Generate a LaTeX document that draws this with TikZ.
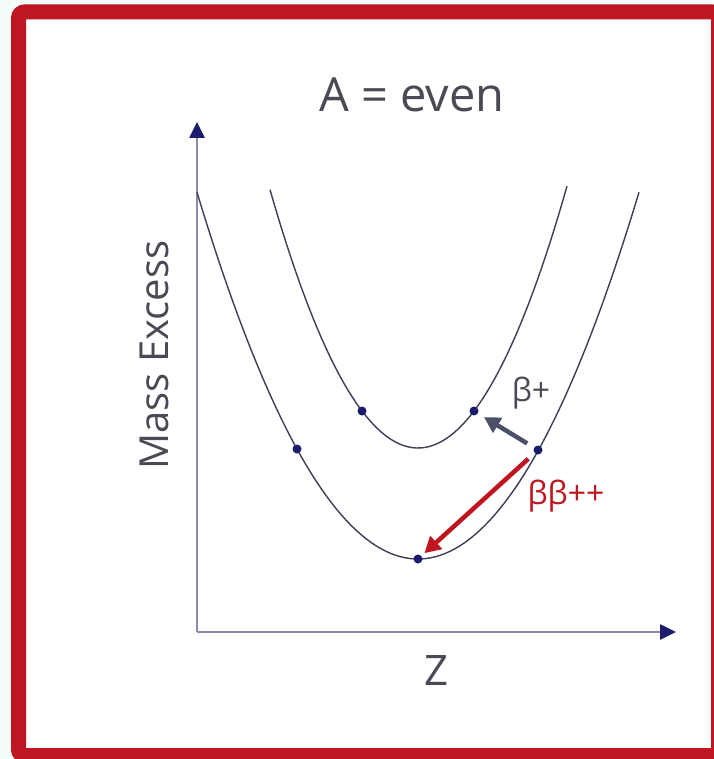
\documentclass[tikz,border=0pt]{standalone}
\usepackage{fontspec}
\setmainfont{Open Sans}
\usepackage{tikz}
\usetikzlibrary{arrows.meta}
\definecolor{FrameRed}{HTML}{BE1622}
\definecolor{PageTint}{HTML}{F2FDFB}
\definecolor{AxisGrey}{HTML}{8C8CA8}
\definecolor{AxisNavy}{HTML}{1C1C6E}
\definecolor{CurveGrey}{HTML}{3E3E58}
\definecolor{TextGrey}{HTML}{4A4A55}
\definecolor{DecayRed}{HTML}{C0141E}
\definecolor{DecaySlate}{HTML}{4B5068}
\newcommand{\textsz}[1]{\fontsize{#1}{#1}\selectfont}

\begin{document}
\begin{tikzpicture}[x=1pt, y=-1pt,
    level/.style={circle, fill=AxisNavy, inner sep=0pt, minimum size=9pt},
    parabolaline/.style={CurveGrey, line width=1.4pt},
    axisline/.style={AxisGrey, line width=2.6pt, -{Triangle[length=16pt,width=15pt,color=AxisNavy]}},
    decay/.style={line width=4.5pt, -{Triangle[length=16pt,width=17pt]}},
    axistext/.style={text=TextGrey, inner sep=0pt, anchor=base}]
    \useasboundingbox[fill=PageTint] (0,0) rectangle (713,759);
    \draw[FrameRed, line width=15pt, fill=white, rounded corners=6pt] (18.5,12) rectangle (718.5,755.5);
    % axes
    \coordinate (origin) at (197,632);
    \coordinate (ytip) at (197,122);
    \coordinate (xtip) at (676,632);
    \draw[axisline] (origin) -- (ytip);
    \draw[axisline] (origin) -- (xtip);
    % mass parabolas
    \draw[parabolaline] plot[domain=197:639, samples=90] (\x,{559-0.08666*(\x-418)*0.08666*(\x-418)});
    \draw[parabolaline] plot[domain=270:567, samples=70] (\x,{448-0.1086*(\x-418)*0.1086*(\x-418)});
    \node[level] (evenlow1) at (297,449) {};
    \node[level] (evenmin) at (418,559) {};
    \node[level] (evenlow3) at (538,450) {};
    \node[level] (oddhigh1) at (362,411) {};
    \node[level] (oddhigh2) at (474,411) {};
    % decays
    \draw[decay, DecaySlate, shorten <=8pt, shorten >=7pt] (evenlow3) -- (oddhigh2);
    \draw[decay, DecayRed, shorten <=8.5pt, shorten >=4pt] (evenlow3) -- (evenmin);
    % labels
    \node[axistext, font=\textsz{47}] (title) at (412,112) {A = even};
    \node[axistext, font=\textsz{40}, rotate=90] (ylabel) at (168,355) {Mass Excess};
    \node[axistext, font=\textsz{42}] (xlabel) at (436,685) {Z};
    \node[axistext, font=\textsz{32}] (betaplus) at (531,401) {β+};
    \node[axistext, font=\textsz{32}, text=DecayRed] (doublebeta) at (566,504) {ββ++};
\end{tikzpicture}
\end{document}
